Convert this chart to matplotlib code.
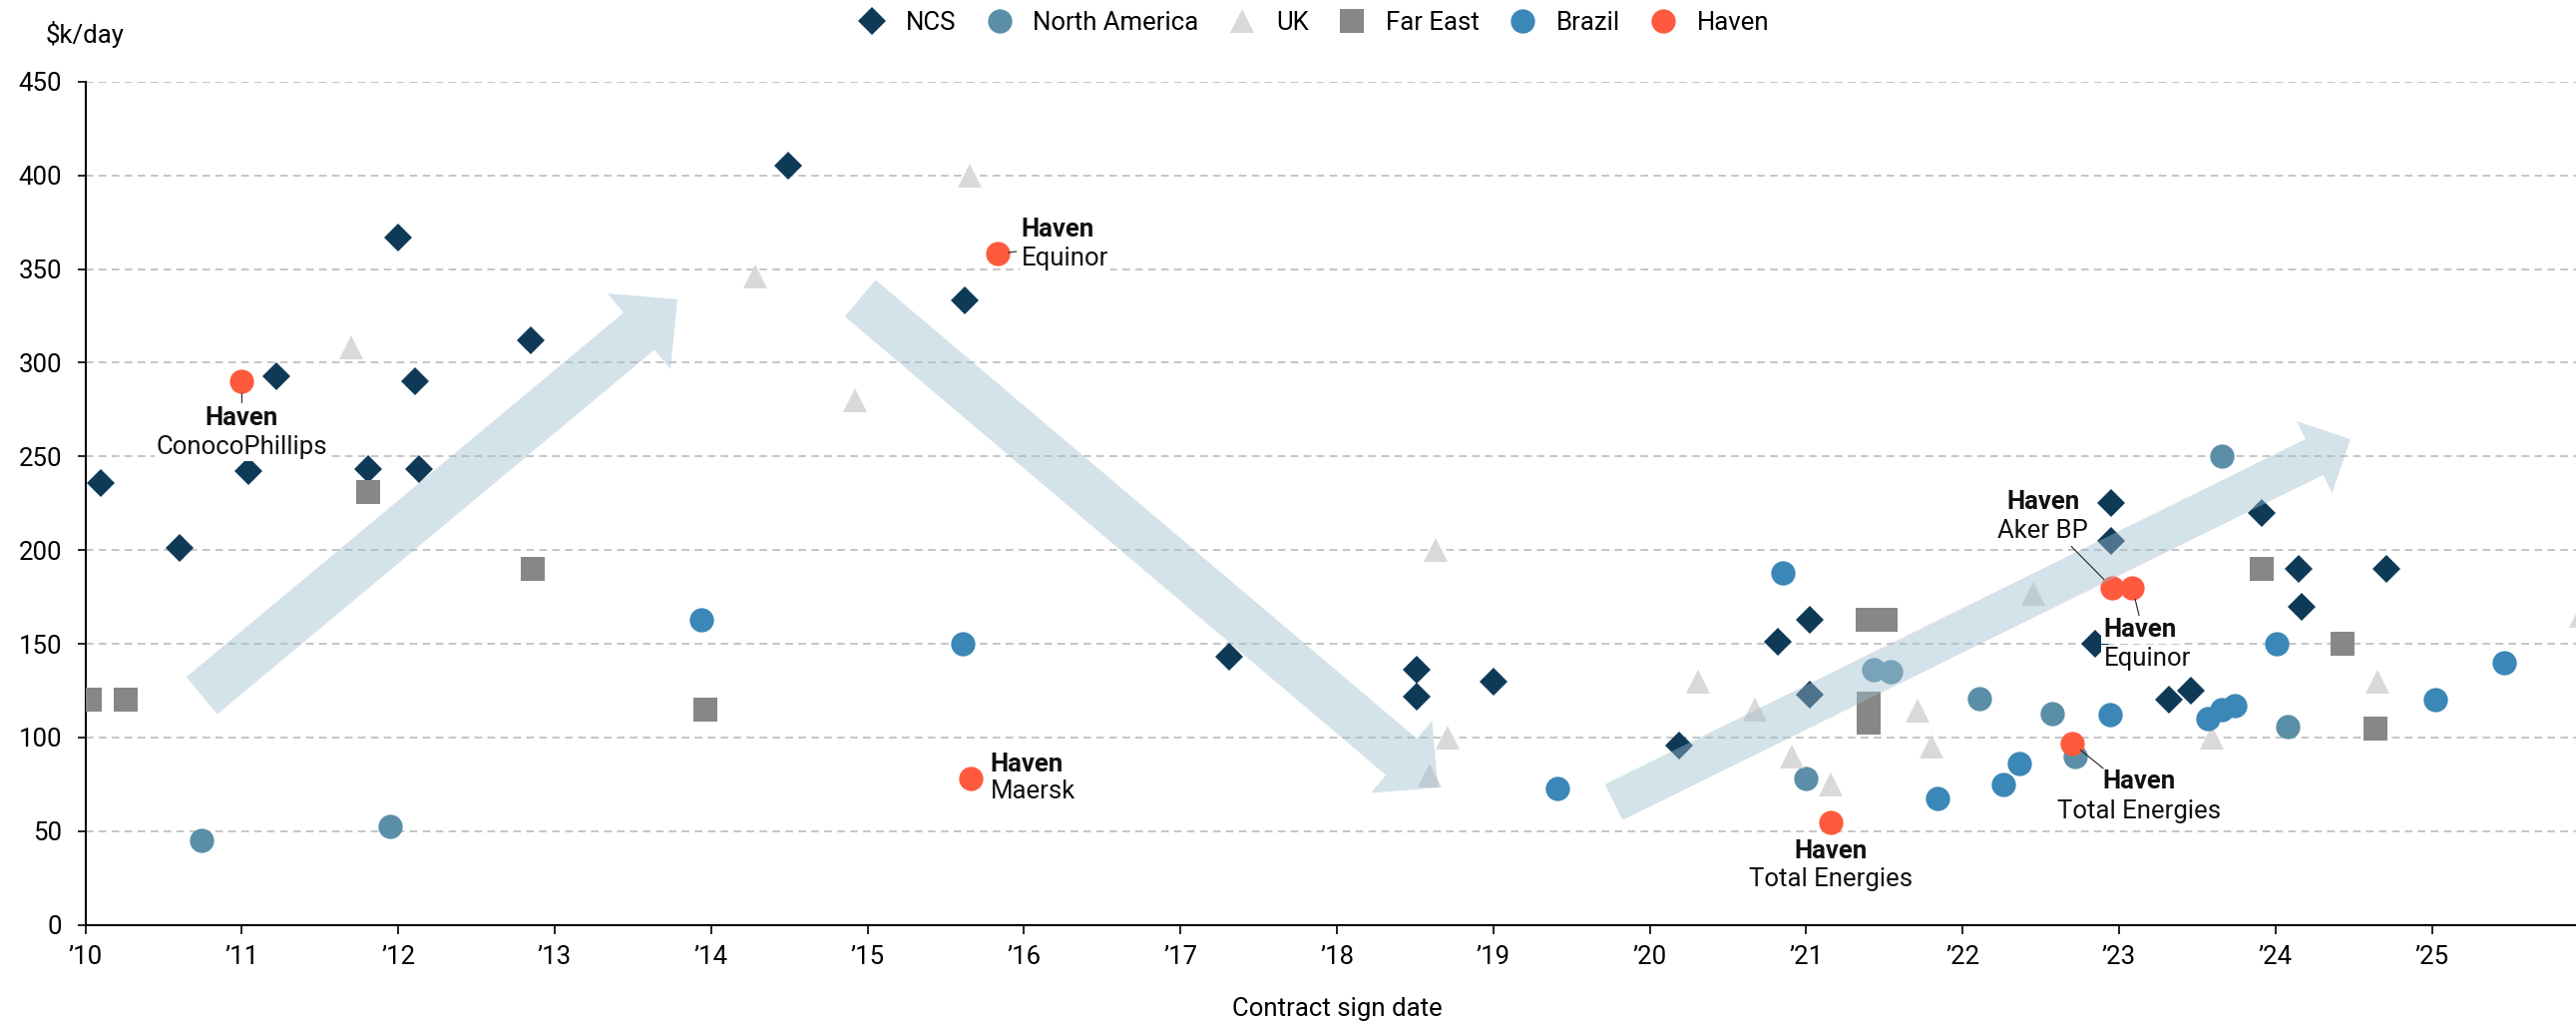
import numpy as np
import matplotlib.pyplot as plt
from matplotlib.lines import Line2D
from matplotlib.patches import Polygon

plt.rcParams['font.family'] = ['Roboto', 'DejaVu Sans']
FS = 18.5
plt.rcParams['font.size'] = FS

# contract sign date (decimal year) and day rate ($k/day) per region
ncs_x = [2010.10, 2010.60, 2011.04, 2011.22, 2011.81, 2012.00, 2012.11, 2012.13, 2012.85,
         2014.49, 2015.62, 2017.31, 2018.51, 2018.51, 2019.00, 2020.19, 2020.82, 2021.02,
         2021.02, 2022.85, 2022.95, 2022.95, 2023.32, 2023.46, 2023.91, 2024.15, 2024.17, 2024.71]
ncs_y = [236, 201, 242, 293, 243, 367, 290, 243, 312,
         405, 333, 143, 136, 122, 130, 96, 151, 163,
         123, 150, 225, 205, 120, 125, 220, 190, 170, 190]

na_x = [2010.74, 2011.95, 2021.00, 2021.43, 2021.54, 2022.11, 2022.57, 2022.72, 2023.66, 2024.08]
na_y = [45, 52.5, 78, 136, 135, 121, 113, 90, 250, 106]

uk_x = [2011.70, 2014.28, 2014.92, 2015.65, 2018.63, 2018.71, 2018.59, 2020.31, 2020.67,
        2020.91, 2021.16, 2021.71, 2021.80, 2022.45, 2023.59, 2024.65, 2025.95]
uk_y = [308, 346, 280, 400, 200, 100, 80, 130, 115,
        90, 75, 114.5, 95, 176.5, 100, 130, 165]

fe_x = [2010.03, 2010.26, 2011.81, 2012.86, 2013.96, 2021.39, 2021.51, 2021.40, 2021.40,
        2023.91, 2024.43, 2024.64]
fe_y = [120, 120, 231, 190, 115, 163, 163, 118, 108, 190, 150, 105]

br_x = [2013.94, 2015.61, 2019.41, 2020.85, 2021.84, 2022.26, 2022.36, 2022.94, 2023.57,
        2023.66, 2023.74, 2024.01, 2025.02, 2025.46]
br_y = [163, 150, 73, 188, 67.5, 75, 86, 112.5, 110, 115, 117, 150, 120, 140]

haven_x = [2011.00, 2015.83, 2015.66, 2021.16, 2022.70, 2022.955, 2023.085]
haven_y = [290, 358, 78, 55, 97, 180, 180]
haven_client = ['ConocoPhillips', 'Equinor', 'Maersk', 'Total Energies', 'Total Energies',
                'Aker BP', 'Equinor']

years = list(range(2010, 2026))
year_labels = ['\u2019%02d' % (y % 100) for y in years]
y_ticks = list(range(0, 451, 50))

# label placement per Haven point, pixel offsets from the marker:
# (haven line dx, dy), company line dy, alignment, leader start (dx, dy) or None, leader gap
label_pos = [
    ((0, -37), -66, 'center', (0, -21.5), 12),
    ((24, 24), -4.3, 'left', (19, 2.5), 11),
    ((19.5, 14.7), -13, 'left', None, 0),
    ((0, -29.7), -57.5, 'center', None, 0),
    ((67.2, -38.3), -68.2, 'center', (31.2, -25.3), 11),
    ((-69.4, 85.3), 56.3, 'center', (-40.8, 41.3), 11.7),
    ((-28.9, -42.1), -70.8, 'left', (6.7, -27.9), 11.8),
]

# trend arrows: tail centre, tip, shaft width / head width / head length in px
trend_arrows = [
    ((2010.744, 122.4), (2013.784, 333.8), 48.5, 98.7, 50),
    ((2014.953, 334.4), (2018.646, 73.2), 48, 95, 48),
    ((2019.770, 65.5), (2024.480, 259.2), 40, 80, 40.5),
]

colors = {'NCS': '#0E3A58', 'North America': '#5B8FA8', 'UK': '#D9D9D9',
          'Far East': '#878787', 'Brazil': '#3B87B7', 'Haven': '#FF5A3D'}

DPI = 100
W, H = 2582, 1024
fig = plt.figure(figsize=(W / DPI, H / DPI), dpi=DPI)
ax_left, ax_bottom, ax_top = 85.6 / W, 1 - 926.8 / H, 1 - 81.7 / H
ax = fig.add_axes([ax_left, ax_bottom, 1 - ax_left, ax_top - ax_bottom])
ax.set_xlim(2010, 2010 + (W - 85.6) / 156.8)
ax.set_ylim(0, 450)

series = [
    ('NCS', ncs_x, ncs_y, 'D', 13.8),
    ('North America', na_x, na_y, 'o', 17.5),
    ('UK', uk_x, uk_y, '^', 17),
    ('Far East', fe_x, fe_y, 's', 17),
    ('Brazil', br_x, br_y, 'o', 17.5),
    ('Haven', haven_x, haven_y, 'o', 17.5),
]
handles = []
for name, xs, ys, mk, ms in series:
    ax.plot(xs, ys, linestyle='none', marker=mk, markersize=ms, color=colors[name],
            markeredgewidth=0, zorder=3)
    handles.append(Line2D([], [], linestyle='none', marker=mk, markersize=ms,
                          color=colors[name], markeredgewidth=0, label=name))


def block_arrow(ax, start, end, width, head_width, head_length):
    p0 = ax.transData.transform(start)
    p1 = ax.transData.transform(end)
    u = (p1 - p0) / np.hypot(*(p1 - p0))
    n = np.array([-u[1], u[0]])
    base = p1 - u * head_length
    pts = [p0 + n * width / 2, base + n * width / 2, base + n * head_width / 2, p1,
           base - n * head_width / 2, base - n * width / 2, p0 - n * width / 2]
    verts = ax.transData.inverted().transform(np.array(pts))
    ax.add_patch(Polygon(verts, closed=True, facecolor='#9FBDCF', edgecolor='none',
                         alpha=0.44, zorder=4))


for start, end, w, hw, hl in trend_arrows:
    block_arrow(ax, start, end, w, hw, hl)

px = 72 / DPI
box = dict(facecolor='white', edgecolor='none', pad=1.5)
for x, y, client, (hoff, cdy, ha, lead, gap) in zip(haven_x, haven_y, haven_client, label_pos):
    ax.annotate('Haven', (x, y), xytext=(hoff[0] * px, hoff[1] * px), textcoords='offset points',
                ha=ha, va='center', fontweight='bold', color='#111111', bbox=box, zorder=6)
    ax.annotate(client, (x, y), xytext=(hoff[0] * px, cdy * px), textcoords='offset points',
                ha=ha, va='center', color='#111111', bbox=box, zorder=6)
    if lead is not None:
        ax.annotate('', (x, y), xytext=(lead[0] * px, lead[1] * px), textcoords='offset points',
                    arrowprops=dict(arrowstyle='-', color='#222222', lw=0.8,
                                    shrinkA=0, shrinkB=gap * px), zorder=6)

ax.set_xticks(years)
ax.set_xticklabels(year_labels)
ax.set_yticks(y_ticks)
ax.yaxis.grid(True, linestyle=(0, (5, 3.5)), color='#b5b5b5', linewidth=1.1)
ax.set_axisbelow(True)
for side in ['top', 'right']:
    ax.spines[side].set_visible(False)
for side in ['left', 'bottom']:
    ax.spines[side].set_linewidth(1.5)
    ax.spines[side].set_color('black')
ax.tick_params(axis='x', length=6.5, width=1.2, pad=8, labelsize=FS)
ax.tick_params(axis='y', length=6, width=1.2, pad=11, labelsize=FS)

fig.text(46 / W, 1 - 34 / H, r'\$k/day', ha='left', va='center', fontsize=FS)
fig.text(1340 / W, 1 - 1011 / H, 'Contract sign date', ha='center', va='center', fontsize=FS)

fig.legend(handles=handles, loc='center', bbox_to_anchor=(1317.5 / W, 1 - 23 / H), ncol=6,
           frameon=False, handlelength=1.0, handletextpad=0.8, columnspacing=1.2,
           borderpad=0, fontsize=FS)

fig.savefig('out.png', dpi=DPI)
